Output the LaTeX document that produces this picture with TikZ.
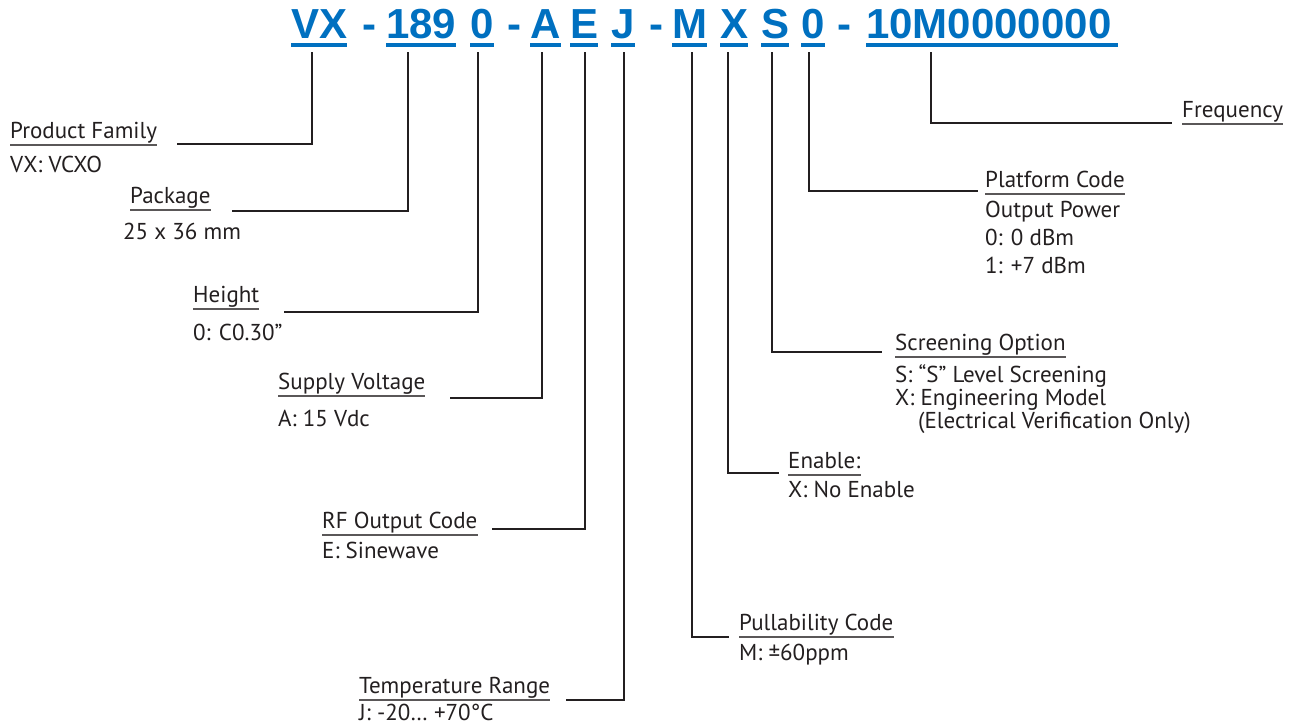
\documentclass[tikz,border=0pt]{standalone}
\usepackage{fontspec}
\setmainfont{PT Sans}
\newfontfamily\hdrfont{Liberation Sans}
\definecolor{hblue}{RGB}{0,112,192}
\definecolor{ink}{RGB}{35,31,32}
\begin{document}
\begin{tikzpicture}[x=1pt,y=-1pt,
  hdr/.style={anchor=base west, inner sep=0pt, text=hblue, font=\hdrfont\bfseries\fontsize{42}{42}\selectfont},
  lbl/.style={anchor=base west, inner sep=0pt, text=ink, font=\fontsize{23}{23}\selectfont},
  conn/.style={draw=ink, line width=2.6pt},
  ul/.style={draw=ink!75, line width=1.3pt},
  hul/.style={draw=hblue, line width=3.6pt}]
\useasboundingbox (0,0) rectangle (1299,726);
% header
\node[hdr] (hVX) at (291,38) {VX};
\node[hdr] (hd1) at (362,38) {-};
\node[hdr] (h189) at (386,38) {189};
\node[hdr] (h0a) at (470,38) {0};
\node[hdr] (hd2) at (507,38) {-};
\node[hdr] (hA) at (530,38) {A};
\node[hdr] (hE) at (570,38) {E};
\node[hdr] (hJ) at (611,38) {J};
\node[hdr] (hd3) at (649,38) {-};
\node[hdr] (hM) at (672,38) {M};
\node[hdr] (hX) at (720,38) {X};
\node[hdr] (hS) at (761,38) {S};
\node[hdr] (h0b) at (801,38) {0};
\node[hdr] (hd4) at (837,38) {-};
\node[hdr] (hF) at (866,38) {10M0000000};
\foreach \n in {hVX,h189,h0a,hA,hE,hJ,hM,hX,hS,h0b}
  \draw[hul] ([yshift=-7pt]\n.base west) -- ([yshift=-7pt]\n.base east);
\draw[hul] ([yshift=-7pt]hF.base west) -- ([yshift=-7pt,xshift=6pt]hF.base east);
% labels
\node[lbl] (lPF) at (10,138) {Product Family};
\node[lbl] (dPF) at (10,172) {VX: VCXO};
\node[lbl] (lPK) at (130,203) {Package};
\node[lbl] (dPK) at (123,239) {25 x 36 mm};
\node[lbl] (lHT) at (193,302) {Height};
\node[lbl] (dHT) at (193,340) {0: C0.30”};
\node[lbl] (lSV) at (278,389) {Supply Voltage};
\node[lbl] (dSV) at (278,426) {A: 15 Vdc};
\node[lbl] (lRF) at (322,528) {RF Output Code};
\node[lbl] (dRF) at (322,558) {E: Sinewave};
\node[lbl] (lTR) at (359,693) {Temperature Range};
\node[lbl] (dTR) at (359,720) {J: -20… +70°C};
\node[lbl] (lPC) at (739,630) {Pullability Code};
\node[lbl] (dPC) at (739,660) {M: ±60ppm};
\node[lbl] (lEN) at (788,468) {Enable:};
\node[lbl] (dEN) at (788,497) {X: No Enable};
\node[lbl] (lSO) at (895,350) {Screening Option};
\node[lbl] (dSO1) at (895,382) {S: “S” Level Screening};
\node[lbl] (dSO2) at (895,405) {X: Engineering Model};
\node[lbl] (dSO3) at (918,428) {(Electrical Verification Only)};
\node[lbl] (lPL) at (985,187) {Platform Code};
\node[lbl] (dPL1) at (985,217) {Output Power};
\node[lbl] (dPL2) at (985,245) {0: 0 dBm};
\node[lbl] (dPL3) at (985,273) {1: +7 dBm};
\node[lbl] (lFR) at (1182,117) {Frequency};
\foreach \n in {lPF,lPK,lHT,lSV,lRF,lTR,lPC,lEN,lSO,lPL,lFR}
  \draw[ul] ([yshift=-7pt]\n.base west) -- ([yshift=-7pt]\n.base east);
% tick coordinates and line ends
\coordinate (tVX) at (312,52);  \coordinate (eVX) at (177,144);
\coordinate (t189) at (408,52); \coordinate (e189) at (232,211);
\coordinate (t0a) at (478,52);  \coordinate (e0a) at (284,312);
\coordinate (tA) at (542,52);   \coordinate (eA) at (450,398);
\coordinate (tE) at (585,52);   \coordinate (eE) at (492,529);
\coordinate (tJ) at (624,52);   \coordinate (eJ) at (566,700);
\coordinate (tM) at (692,52);   \coordinate (eM) at (729,637);
\coordinate (tX) at (728,52);   \coordinate (eX) at (779,473);
\coordinate (tS) at (772,52);   \coordinate (eS) at (882,352);
\coordinate (t0b) at (809,52);  \coordinate (e0b) at (978,191);
\coordinate (tF) at (931,52);   \coordinate (eF) at (1172,123);
\foreach \a in {VX,189,0a,A,E,J,M,X,S,0b,F}
  \draw[conn] (t\a) |- (e\a);
\end{tikzpicture}
\end{document}
